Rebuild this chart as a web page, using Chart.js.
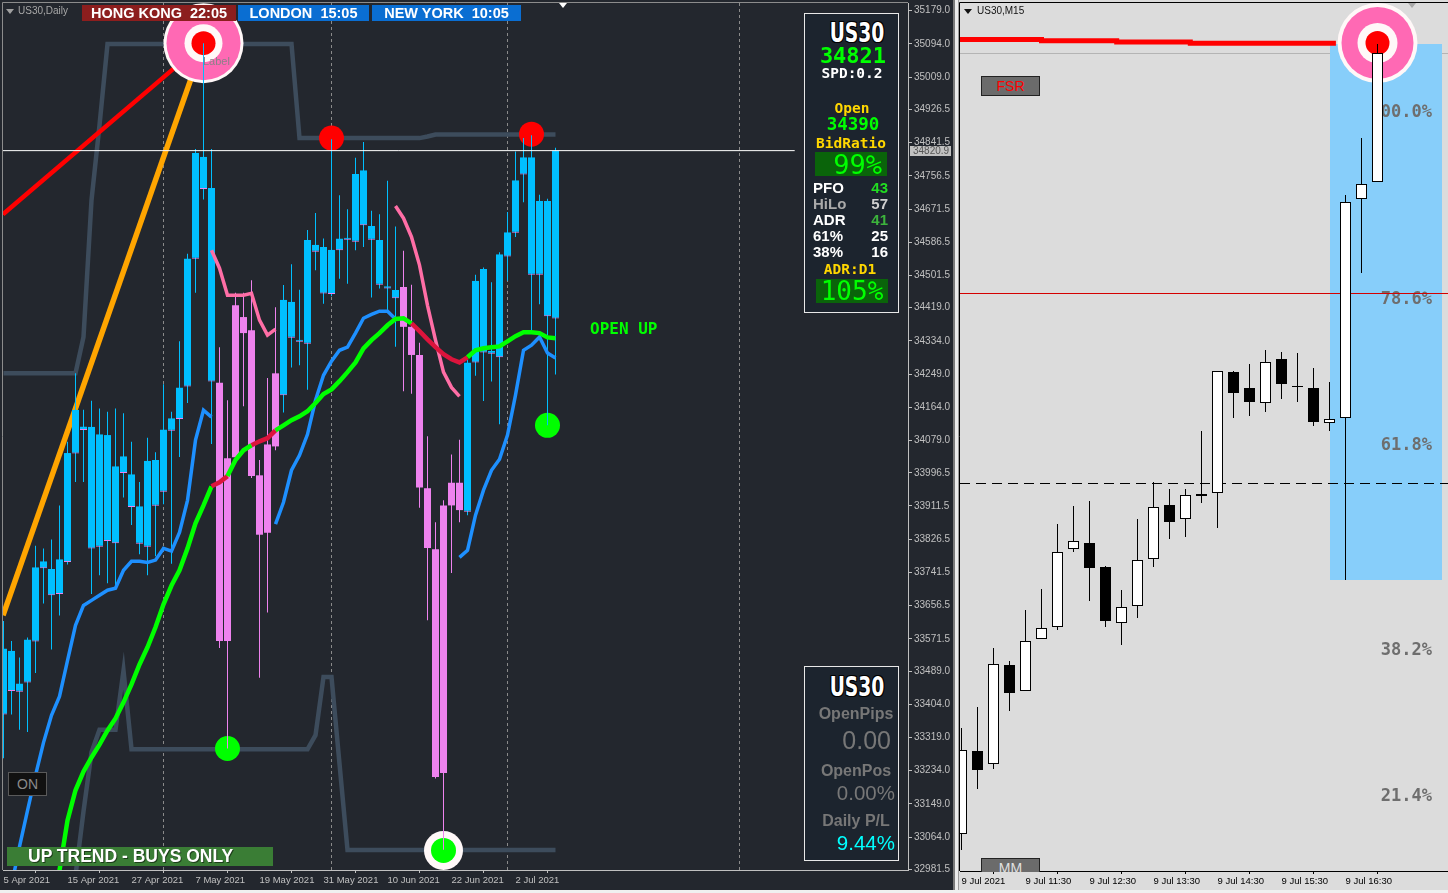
<!DOCTYPE html>
<html lang="en">
<head>
<meta charset="utf-8">
<title>US30 Daily / M15</title>
<script src="https://cdn.jsdelivr.net/npm/chart.js@4.4.1/dist/chart.umd.min.js"></script>
<style>
  html, body { margin:0; padding:0; }
  body { position:relative; width:1448px; height:893px; overflow:hidden; background:#f0f0f0;
         font-family:"Liberation Sans", Arial, sans-serif; }
  #leftPane { position:absolute; left:0; top:0; width:953px; height:890px; background:#23272e; }
  #rightPane { position:absolute; left:959px; top:0; width:489px; height:890px; background:#dcdcdc; }
  #sepA { position:absolute; left:953px; top:0; width:2px; height:890px; background:#7a7a7a; }
  #sepB { position:absolute; left:955px; top:0; width:3px; height:890px; background:#ececec; }
  #sepC { position:absolute; left:958px; top:0; width:1px; height:890px; background:#9c9c9c; }
  canvas { position:absolute; top:0; }
  #dailyChart { left:0; }
  #m15Chart { left:955px; }
  .t { position:absolute; white-space:pre; }
  .ctr { width:100px; text-align:center; }
  .rt { text-align:right; }
  .mono { font-family:"DejaVu Sans Mono", monospace; font-weight:bold; }
  .b { font-weight:bold; }
  .sess { position:absolute; top:5px; height:16px; line-height:16px; color:#fff; font-weight:bold;
          font-size:14.5px; text-align:center; white-space:pre; }
  .panel { position:absolute; left:804px; width:93px; background:#1c242e; border:1px solid #e8e8e8; }
  .sym { font-family:"DejaVu Sans Condensed","DejaVu Sans",sans-serif; font-weight:bold; color:#fff;
         transform:scaleX(0.8);
         text-shadow:1px 1px 0 #000,-1px -1px 0 #000,1px -1px 0 #000,-1px 1px 0 #000; }
  .tri { position:absolute; width:0; height:0; border-left:4px solid transparent; border-right:4px solid transparent; }
</style>
</head>
<body>
<div id="leftPane"></div>
<div id="sepA"></div><div id="sepB"></div><div id="sepC"></div>
<div id="rightPane"></div>
<canvas id="dailyChart" width="955" height="890"></canvas>
<canvas id="m15Chart" width="493" height="890"></canvas>

<!-- daily chart overlays -->
<div class="tri" style="left:6px;top:9px;border-top:5px solid #a0a0a0"></div>
<div class="t" style="left:18px;top:5px;font-size:10px;line-height:12px;color:#a8a8a8">US30,Daily</div>
<div class="tri" style="left:559px;top:3px;border-top:5px solid #ffffff"></div>
<div class="sess" style="left:82px;width:154px;background:#8c1e1e">HONG KONG  22:05</div>
<div class="sess" style="left:238px;width:131px;background:#0a6ed2">LONDON  15:05</div>
<div class="sess" style="left:372px;width:149px;background:#0a6ed2">NEW YORK  10:05</div>
<div class="t" style="left:203px;top:55px;font-size:11px;line-height:12px;color:#8c8088">Label</div>
<div class="t mono" style="left:590px;top:321px;font-size:16px;line-height:16px;color:#00ff00">OPEN UP</div>
<div class="t" style="left:8px;top:772px;width:37px;height:22px;background:#111;border:1px solid #5a5a5a;color:#8a8a8a;font-size:14px;line-height:22px;text-align:center">ON</div>
<div class="t b" style="left:7px;top:847px;width:245px;height:19px;padding-left:21px;background:#3a7d35;color:#fff;font-size:17.5px;line-height:19px;text-shadow:1px 1px 0 #1d3d1a">UP TREND - BUYS ONLY</div>

<div class="panel" style="top:13px;height:298px"></div>
<div class="t ctr sym" style="left:807px;top:20px;font-size:26px;line-height:26px">US30</div>
<div class="t ctr mono" style="left:803px;top:45px;font-size:22px;line-height:22px;color:#00ff00">34821</div>
<div class="t ctr mono" style="left:802px;top:66px;font-size:14.5px;line-height:15px;color:#ffffff">SPD:0.2</div>
<div class="t ctr mono" style="left:802px;top:101px;font-size:14.5px;line-height:15px;color:#ffd700">Open</div>
<div class="t ctr mono" style="left:803px;top:115px;font-size:17.5px;line-height:18px;color:#00ff00">34390</div>
<div class="t ctr mono" style="left:801px;top:136px;font-size:14.5px;line-height:15px;color:#ffd700">BidRatio</div>
<div class="t" style="left:815px;top:152px;width:72px;height:24px;background:#0a640a"></div>
<div class="t rt" style="left:782px;top:151px;width:100px;font-family:'DejaVu Sans Mono',monospace;font-size:27px;line-height:27px;color:#00ff00">99%</div>
<div class="t b" style="left:813px;top:180px;font-size:15px;line-height:15px;color:#ffffff">PFO</div>
<div class="t b rt" style="left:838px;top:180px;width:50px;font-size:15px;line-height:15px;color:#22dd22">43</div>
<div class="t b" style="left:813px;top:196px;font-size:15px;line-height:15px;color:#a9a9a9">HiLo</div>
<div class="t b rt" style="left:838px;top:196px;width:50px;font-size:15px;line-height:15px;color:#cfcfcf">57</div>
<div class="t b" style="left:813px;top:212px;font-size:15px;line-height:15px;color:#ffffff">ADR</div>
<div class="t b rt" style="left:838px;top:212px;width:50px;font-size:15px;line-height:15px;color:#3cb43c">41</div>
<div class="t b" style="left:813px;top:228px;font-size:15px;line-height:15px;color:#ffffff">61%</div>
<div class="t b rt" style="left:838px;top:228px;width:50px;font-size:15px;line-height:15px;color:#ffffff">25</div>
<div class="t b" style="left:813px;top:244px;font-size:15px;line-height:15px;color:#ffffff">38%</div>
<div class="t b rt" style="left:838px;top:244px;width:50px;font-size:15px;line-height:15px;color:#ffffff">16</div>
<div class="t ctr mono" style="left:800px;top:262px;font-size:14.5px;line-height:15px;color:#ffd700">ADR:D1</div>
<div class="t" style="left:816px;top:279px;width:72px;height:24px;background:#0a640a"></div>
<div class="t ctr" style="left:802px;top:278px;font-family:'DejaVu Sans Mono',monospace;font-size:26px;line-height:26px;color:#00ff00">105%</div>

<div class="panel" style="top:666px;height:193px"></div>
<div class="t ctr sym" style="left:807px;top:674px;font-size:26px;line-height:26px">US30</div>
<div class="t ctr b" style="left:806px;top:706px;font-size:16px;line-height:16px;color:#777">OpenPips</div>
<div class="t rt" style="left:791px;top:728px;width:100px;font-size:25px;line-height:25px;color:#777">0.00</div>
<div class="t ctr b" style="left:806px;top:763px;font-size:16px;line-height:16px;color:#777">OpenPos</div>
<div class="t rt" style="left:795px;top:782px;width:100px;font-size:20.5px;line-height:21px;color:#777">0.00%</div>
<div class="t ctr b" style="left:806px;top:813px;font-size:16px;line-height:16px;color:#777">Daily P/L</div>
<div class="t rt" style="left:795px;top:832px;width:100px;font-size:20.5px;line-height:21px;color:#00ffff">9.44%</div>

<!-- M15 chart overlays -->
<div class="tri" style="left:964px;top:9px;border-top:5px solid #111"></div>
<div class="t" style="left:977px;top:5px;font-size:10px;line-height:12px;color:#111">US30,M15</div>
<div class="tri" style="left:1408px;top:3px;border-top:5px solid #a8a8a8"></div>
<div class="t" style="left:981px;top:76px;width:57px;height:18px;background:#6b6b6b;border:1px solid #222;color:#ff0000;font-size:14px;line-height:18px;text-align:center">FSR</div>
<div class="t" style="left:981px;top:858px;width:57px;height:13px;overflow:hidden;background:#6b6b6b;border:1px solid #222;border-bottom:0;color:#e0e0e0;font-size:14px;line-height:18px;text-align:center">MM</div>

<script>
// ---------- US30 Daily ----------
const dayTickBars = [0, 8, 16, 24, 32, 40, 48, 56, 64];
const dayTickLabels = ["5 Apr 2021", "15 Apr 2021", "27 Apr 2021", "7 May 2021", "19 May 2021",
                       "31 May 2021", "10 Jun 2021", "22 Jun 2021", "2 Jul 2021"];
const monthBreakBars = [20, 41, 63, 92];
const priceTicks = [35179.0, 35094.0, 35009.0, 34926.5, 34841.5, 34756.5, 34671.5, 34586.5, 34501.5,
                    34419.0, 34334.0, 34249.0, 34164.0, 34079.0, 33996.5, 33911.5, 33826.5, 33741.5,
                    33656.5, 33571.5, 33489.0, 33404.0, 33319.0, 33234.0, 33149.0, 33064.0, 32981.5];

const dOpen = [33378,33438,33436,33460,33565,33752,33683,33686,33768,34046,
               34106,33803,33807,33822,33816,33996,33909,33815,33807,33912,
               33948,34104,34134,34217,34544,34723,34230,34227,34034,34425,
               34395,34361,33990,34069,34251,34195,34342,34332,34327,34562,
               34455,34454,34566,34593,34588,34630,34593,34478,34468,34443,
               34472,34370,34298,33957,33801,33913,33971,33971,33897,34279,
               34304,34301,34292,34550,34611,34760,34503,34503,34397,34391];
const dHigh = [33617,33566,33524,33575,33810,33803,33826,33913,34076,34251,
               34158,34181,34161,34153,34161,34149,34076,33973,34086,34049,
               34223,34153,34333,34557,34825,35096,34825,34318,34182,34457,
               34457,34489,34029,34239,34420,34477,34530,34465,34618,34661,
               34596,34850,34707,34671,34803,34843,34667,34658,34744,34627,
               34565,34478,34329,34090,33870,33926,34043,34081,34286,34503,
               34522,34484,34561,34664,34819,34853,34860,34708,34698,34828];
const dLow  = [33266,33378,33339,33333,33484,33662,33544,33631,33762,33973,
               33973,33686,33734,33714,33708,33933,33863,33788,33734,33783,
               33916,33764,34037,34175,34457,34696,34070,33548,33291,34029,
               34167,33983,33472,33639,34054,34151,34266,34272,34209,34515,
               34429,34448,34493,34480,34566,34574,34445,34468,34410,34319,
               34205,34199,33907,33619,33214,33032,33740,33870,33888,34245,
               34180,34230,34121,34488,34600,34689,34354,34428,34118,34248];
const dClose = [33547,33541,33457,33570,33755,33770,33750,33775,34047,34158,
                34115,34114,34095,34093,34013,34039,33993,33911,34027,34029,
                34107,34136,34215,34545,34815,34805,34725,33566,33566,34036,
                34354,33988,33838,33843,34064,34439,34434,34337,34592,34580,
                34574,34567,34596,34598,34761,34771,34628,34592,34474,34464,
                34370,34298,33959,33804,33218,33228,33913,33901,34279,34488,
                34518,34308,34556,34612,34745,34804,34804,34692,34692,34821];

// channel (upper / lower)
const upperBand = [34251,34251,34251,34251,34251,34251,34251,34251,34251,34251,
                   34344,34694,34886,35094,35094,35094,35094,35094,35094,35094,
                   35094,35094,35094,35094,35094,35094,35094,35094,35094,35094,
                   35094,35094,35094,35094,35094,35094,35094,34853,34853,34853,
                   34853,34853,34853,34853,34853,34853,34853,34853,34853,34853,
                   34853,34853,34853,34857,34862,34862,34862,34862,34862,34862,
                   34862,34862,34862,34862,34862,34862,34862,34862,34862,34862];
const lowerBandStart = 9;
const lowerBand = [32966,33130,33281,33339,33339,33339,33490,33289,
                   33289,33289,33289,33289,33289,33289,33289,33289,33289,33289,33289,
                   33289,33289,33289,33289,33289,33289,33289,33289,33289,33289,33289,
                   33325,33474,33474,33252,
                   33031,33031,33031,33031,33031,33031,33031,33031,33031,33031,33031,
                   33031,33031,33031,33031,33031,33031,33031,33031,33031,33031,33031,
                   33031,33031,33031,33031,33031];

// moving averages
const greenMaStart = 6;
const greenMa = [32900,32979,33107,33184,33232,33268,33301,33337,33368,33409,
                 33455,33506,33550,33601,33660,33708,33747,33803,33867,33913,
                 33962,33972,33988,34029,34054,34067,34077,34085,34105,34118,
                 34131,34141,34154,34175,34198,34210,34231,34254,34279,34315,
                 34336,34354,34374,34390,34392,34379,34359,34338,34318,34300,
                 34287,34279,34292,34310,34315,34318,34320,34333,34346,34356,
                 34356,34354,34343,34341];
const greenMaRedFrom = [26, 27, 31, 32, 33, 51, 52, 53, 54, 55, 56, 57];
const blueMa1Start = 1;
const blueMa1 = [32940,33040,33132,33222,33306,33376,33424,33516,33606,33657,
                 33670,33683,33696,33701,33747,33770,33770,33767,33773,33803,
                 33796,33844,33926,34080,34157,34139];
const blueMa2Start = 34;
const blueMa2 = [33865,33921,34003,34041,34095,34182,34246,34282,34310,34318,
                 34354,34392,34402,34410,34410,34390];
const blueMa3Start = 57;
const blueMa3 = [33780,33798,33888,33952,34003,34031,34093,34195,34310,34323,34344,34303,34290];
const pinkMa1Start = 26;
const pinkMa1 = [34566,34520,34451,34451,34451,34456,34387,34349,34364];
const pinkMa2Start = 49;
const pinkMa2 = [34679,34648,34600,34528,34425,34336,34254,34215,34192];

// fan lines from the swing high, signal marks
const redFanBars = [-0.0625, 25];
const redFanPrices = [34658, 35096];
const orangeFanBars = [-0.0625, 25];
const orangeFanPrices = [33632, 35096];
const sellDotBars = [41, 66];
const sellDotPrices = [34853, 34863];
const buyDotBars = [28, 68];
const buyDotPrices = [33291, 34118];
const topTarget = [25, 35096];
const bottomTarget = [55, 33030];
const bidPrice = 34820.9;
const bidLineEndBar = 98.9;

// ---------- US30 M15 ----------
const m15TickBars = [0, 4, 8, 12, 16, 20, 24];
const m15TickLabels = ["9 Jul 2021", "9 Jul 11:30", "9 Jul 12:30", "9 Jul 13:30",
                       "9 Jul 14:30", "9 Jul 15:30", "9 Jul 16:30"];
const m15Open  = [34040,34123,34110,34209,34183,34235,34247,34325,34331,34307,34251,34268,34315,34369,
                  34355,34378,34381,34502,34486,34471,34515,34488,34486,34451,34456,34675,34692];
const m15High  = [34146,34167,34226,34213,34264,34285,34350,34368,34373,34308,34284,34355,34392,34385,
                  34385,34443,34503,34503,34510,34524,34522,34521,34506,34492,34679,34736,34830];
const m15Low   = [34024,34085,34105,34163,34183,34235,34244,34322,34273,34247,34229,34256,34307,34335,
                  34337,34371,34346,34456,34458,34462,34475,34472,34448,34443,34294,34601,34692];
const m15Close = [34124,34104,34210,34181,34233,34246,34322,34333,34306,34253,34267,34314,34367,34352,
                  34379,34380,34503,34481,34472,34512,34490,34487,34452,34455,34672,34690,34821];
const m15RedBars = [-0.1, 5, 9.7, 14.3, 18.95, 23.4];
const m15RedPrices = [34835.7, 34834.5, 34833.2, 34832, 34830.7, 34830.7];
const fibLabels = ["100.0%", "78.6%", "61.8%", "38.2%", "21.4%"];
const fibLabelPrices = [34761, 34574, 34428, 34223, 34077];
const fibLabelBar = 29.4;
const swingBars = [23, 30];
const swingPrices = [34294, 34830];
const m15Bid = 34820.7;
const m15RedLevel = 34580.7;
const m15DayOpen = 34391.5;
const m15Target = [26, 34831];

const COLORS = {
  up: "#00bfff",
  down: "#ee82ee",
  band: "#3d4c5c",
  pinkMa: "#ff6ea6",
  blueMa: "#1e90ff",
  greenMa: "#00ff00",
  greenMaDown: "#dc143c",
  axis: "#c0c0c0",
  sep: "#8a8a8a",
  fan: "#ff0000",
  fan2: "#ffa500"
};

Chart.defaults.font.family = "'Liberation Sans', Arial, sans-serif";
Chart.defaults.animation = false;

function seg(start, values){
  return values.map((v, k) => ({ x: start + k, y: v }));
}
function pts(xs, ys){
  return xs.map((x, k) => ({ x, y: ys[k] }));
}
function line(data, color, width, order, extra){
  return Object.assign({ type: "line", data, borderColor: color, borderWidth: width,
    pointRadius: 0, tension: 0, fill: false, order }, extra || {});
}
function ring(data, r, color, order){
  return { type: "line", data, showLine: false, pointRadius: r, pointHoverRadius: r,
    pointBackgroundColor: color, pointBorderWidth: 0, order, clip: false };
}
function fixedAxis(size){
  return function(scale){
    if (scale.isHorizontal()) scale.height = size; else scale.width = size;
    scale.paddingTop = 0; scale.paddingBottom = 0; scale.paddingLeft = 0; scale.paddingRight = 0;
  };
}

// ---- daily chart ----
const dayUp = dClose.map((c, i) => c >= dOpen[i]);
const dayColors = dayUp.map(u => u ? COLORS.up : COLORS.down);

const dailyDecor = {
  id: "dailyDecor",
  beforeDatasetsDraw(chart){
    const { ctx, chartArea: a, scales: { x } } = chart;
    ctx.save();
    ctx.strokeStyle = COLORS.sep;
    ctx.lineWidth = 1;
    ctx.setLineDash([3, 3]);
    monthBreakBars.forEach(b => {
      const px = Math.round(x.getPixelForValue(b) - 0.5) + 0.5;
      ctx.beginPath(); ctx.moveTo(px, a.top); ctx.lineTo(px, a.bottom); ctx.stroke();
    });
    ctx.setLineDash([]);
    ctx.strokeStyle = "#8c8c8c";
    ctx.beginPath(); ctx.moveTo(a.left - 0.5, a.bottom); ctx.lineTo(a.left - 0.5, a.top - 0.5);
    ctx.lineTo(a.right, a.top - 0.5); ctx.stroke();
    ctx.restore();
  },
  afterDraw(chart){
    const { ctx, chartArea: a, scales: { y } } = chart;
    const py = Math.round(y.getPixelForValue(bidPrice));
    ctx.save();
    ctx.fillStyle = "#c0c0c0";
    ctx.fillRect(a.right + 2, py - 5, 41, 10);
    ctx.fillStyle = "#555";
    ctx.font = "10px 'Liberation Sans', Arial";
    ctx.textBaseline = "middle";
    ctx.fillText(bidPrice.toFixed(1), a.right + 5, py + 0.5);
    ctx.restore();
  }
};

new Chart(document.getElementById("dailyChart"), {
  type: "bar",
  data: {
    datasets: [
      line(seg(0, upperBand), COLORS.band, 4.5, 90),
      line(seg(lowerBandStart, lowerBand), COLORS.band, 4.5, 90),
      line(pts(orangeFanBars, orangeFanPrices), COLORS.fan2, 5.5, 80),
      line(pts(redFanBars, redFanPrices), COLORS.fan, 4.5, 80),
      ring([{ x: topTarget[0], y: topTarget[1] }], 40, "#fff8f8", 70),
      ring([{ x: topTarget[0], y: topTarget[1] }], 37, "#ff69b4", 69),
      ring([{ x: topTarget[0], y: topTarget[1] }], 19, "#fff8f8", 68),
      ring([{ x: topTarget[0], y: topTarget[1] }], 12, "#ff0000", 67),
      ring([{ x: bottomTarget[0], y: bottomTarget[1] }], 19.5, "#fff8f8", 70),
      ring([{ x: bottomTarget[0], y: bottomTarget[1] }], 12.5, "#00ff00", 67),
      ring(pts(sellDotBars, sellDotPrices), 12.5, "#ff0000", 66),
      ring(pts(buyDotBars, buyDotPrices), 12.5, "#00ff00", 66),
      {
        type: "bar", order: 50, grouped: false, barThickness: 1, inflateAmount: 0,
        data: dHigh.map((h, i) => ({ x: i, y: [dLow[i], h] })),
        backgroundColor: dayColors
      },
      {
        type: "bar", order: 49, grouped: false, barThickness: 7, inflateAmount: 0, borderSkipped: false,
        data: dOpen.map((o, i) => ({ x: i, y: [o, dClose[i]] })),
        backgroundColor: dayColors,
        borderColor: COLORS.down,
        borderWidth: dayUp.map(u => u ? { top: 0, right: 0, bottom: 1, left: 0 } : 0)
      },
      line(seg(pinkMa1Start, pinkMa1), COLORS.pinkMa, 3.5, 30),
      line(seg(pinkMa2Start, pinkMa2), COLORS.pinkMa, 3.5, 30),
      line(seg(blueMa1Start, blueMa1), COLORS.blueMa, 3.5, 29),
      line(seg(blueMa2Start, blueMa2), COLORS.blueMa, 3.5, 29),
      line(seg(blueMa3Start, blueMa3), COLORS.blueMa, 3.5, 29),
      line(seg(greenMaStart, greenMa), COLORS.greenMa, 4.5, 28, {
        segment: { borderColor: c => greenMaRedFrom.includes(c.p0.parsed.x) ? COLORS.greenMaDown : COLORS.greenMa }
      }),
      line([{ x: -0.0625, y: bidPrice }, { x: bidLineEndBar, y: bidPrice }], "#ffffff", 1, 10)
    ]
  },
  options: {
    responsive: false,
    events: [],
    layout: { autoPadding: false, padding: { left: 3, top: 3, right: 0, bottom: 0 } },
    plugins: { legend: { display: false }, tooltip: { enabled: false } },
    scales: {
      x: {
        type: "linear", min: -0.0625, max: 113.0625, offset: false,
        afterBuildTicks: s => { s.ticks = dayTickBars.map(v => ({ value: v })); },
        afterFit: fixedAxis(20),
        grid: { drawOnChartArea: false, color: COLORS.axis, tickLength: 3 },
        border: { color: COLORS.axis },
        ticks: { color: COLORS.axis, font: { size: 9.5 }, align: "start", padding: 2, maxRotation: 0, autoSkip: false,
          callback: v => dayTickLabels[dayTickBars.indexOf(v)] }
      },
      y: {
        type: "linear", position: "right", min: 32980.0, max: 35198.7,
        afterBuildTicks: s => { s.ticks = priceTicks.map(v => ({ value: v })); },
        afterFit: fixedAxis(47),
        grid: { drawOnChartArea: false, color: COLORS.axis, tickLength: 4 },
        border: { color: COLORS.axis },
        ticks: { color: COLORS.axis, font: { size: 10 }, padding: 2, autoSkip: false,
          callback: v => Number(v).toFixed(1) }
      }
    }
  },
  plugins: [dailyDecor]
});

// ---- M15 chart ----
const m15Up = m15Close.map((c, i) => c >= m15Open[i]);

const m15Decor = {
  id: "m15Decor",
  beforeDatasetsDraw(chart){
    const { ctx, chartArea: a, scales: { x, y } } = chart;
    const hLine = (price, color, dash) => {
      const py = Math.round(y.getPixelForValue(price)) + 0.5;
      ctx.strokeStyle = color; ctx.lineWidth = 1; ctx.setLineDash(dash || []);
      ctx.beginPath(); ctx.moveTo(a.left, py); ctx.lineTo(a.right, py); ctx.stroke();
    };
    ctx.save();
    hLine(m15Bid, "#b4b4b4");
    const x0 = x.getPixelForValue(swingBars[0]), x1 = x.getPixelForValue(swingBars[1]);
    const y0 = y.getPixelForValue(swingPrices[1]), y1 = y.getPixelForValue(swingPrices[0]);
    ctx.fillStyle = "#87cefa";
    ctx.fillRect(Math.round(x0), Math.round(y0), Math.round(x1 - x0), Math.round(y1 - y0));
    ctx.fillStyle = "#6e6e6e";
    ctx.font = "bold 17px 'DejaVu Sans Mono', monospace";
    ctx.textAlign = "right"; ctx.textBaseline = "middle";
    fibLabels.forEach((t, k) => ctx.fillText(t, x.getPixelForValue(fibLabelBar), y.getPixelForValue(fibLabelPrices[k])));
    hLine(m15RedLevel, "#d40000");
    hLine(m15DayOpen, "#000000", [10, 6]);
    ctx.setLineDash([]);
    ctx.strokeStyle = "#000";
    ctx.beginPath(); ctx.moveTo(a.left - 0.5, a.bottom); ctx.lineTo(a.left - 0.5, a.top - 0.5);
    ctx.lineTo(a.right, a.top - 0.5); ctx.stroke();
    ctx.restore();
  }
};

new Chart(document.getElementById("m15Chart"), {
  type: "bar",
  data: {
    datasets: [
      line(pts(m15RedBars, m15RedPrices), "#ff0000", 5, 60, { stepped: "after" }),
      ring([{ x: m15Target[0], y: m15Target[1] }], 40, "#fff8f8", 55),
      ring([{ x: m15Target[0], y: m15Target[1] }], 36, "#ff69b4", 54),
      ring([{ x: m15Target[0], y: m15Target[1] }], 20, "#fff8f8", 53),
      ring([{ x: m15Target[0], y: m15Target[1] }], 12, "#ff0000", 52),
      {
        type: "bar", order: 40, grouped: false, barThickness: 1, inflateAmount: 0,
        data: m15High.map((h, i) => ({ x: i, y: [m15Low[i], h] })),
        backgroundColor: "#000"
      },
      {
        type: "bar", order: 39, grouped: false, barThickness: 11, inflateAmount: 0, borderSkipped: false,
        data: m15Open.map((o, i) => ({ x: i, y: [o, m15Close[i]] })),
        backgroundColor: m15Up.map(u => u ? "#ffffff" : "#000000"),
        borderColor: "#000", borderWidth: 1
      }
    ]
  },
  options: {
    responsive: false,
    events: [],
    layout: { autoPadding: false, padding: { left: 5, top: 3, right: 0, bottom: 0 } },
    plugins: { legend: { display: false }, tooltip: { enabled: false } },
    scales: {
      x: {
        type: "linear", min: -0.09375, max: 30.40625, offset: false,
        afterBuildTicks: s => { s.ticks = m15TickBars.map(v => ({ value: v })); },
        afterFit: fixedAxis(19),
        grid: { drawOnChartArea: false, color: "#000", tickLength: 3 },
        border: { color: "#000" },
        ticks: { color: "#000", font: { size: 9.5 }, align: "start", padding: 2, maxRotation: 0, autoSkip: false,
          callback: v => m15TickLabels[m15TickBars.indexOf(v)] }
      },
      y: { type: "linear", display: false, min: 34003, max: 34871 }
    }
  },
  plugins: [m15Decor]
});
</script>
</body>
</html>
